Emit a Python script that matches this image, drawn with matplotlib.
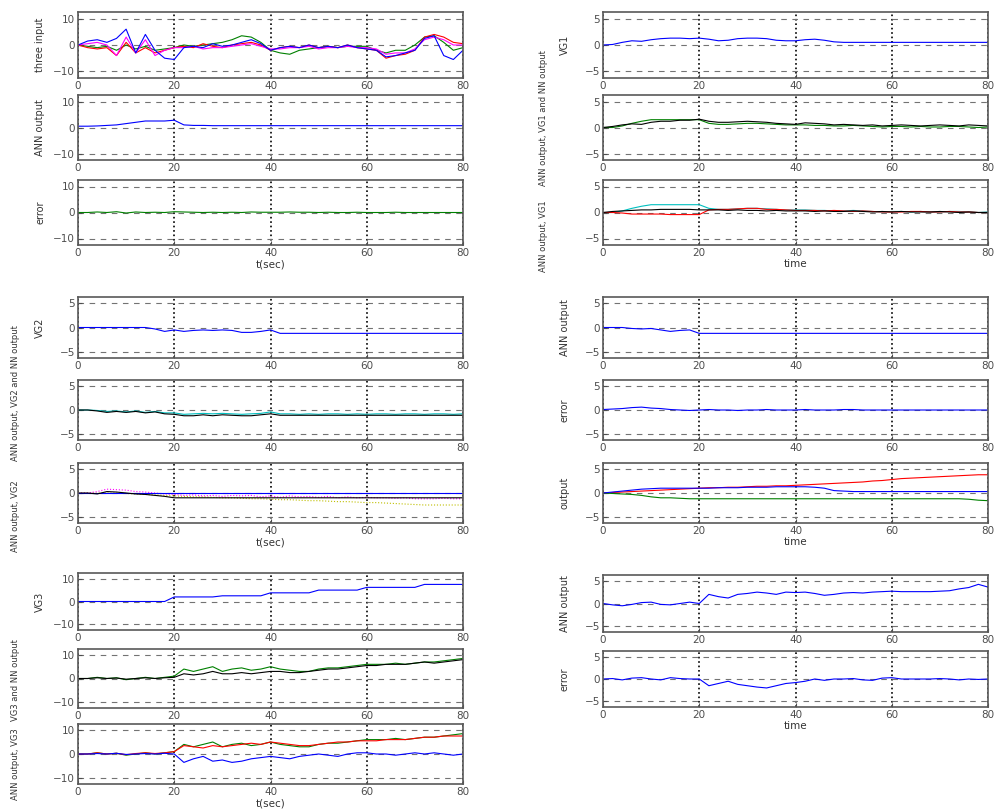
import matplotlib
matplotlib.use("Agg")
import matplotlib.pyplot as plt

# time axis shared by every panel
T = [0, 2, 4, 6, 8, 10, 12, 14, 16, 18, 20, 22, 24, 26, 28, 30, 32, 34, 36, 38, 40,
     42, 44, 46, 48, 50, 52, 54, 56, 58, 60, 62, 64, 66, 68, 70, 72, 74, 76, 78, 80]

# ---- left, group 1
in_blue = [0, 1.5, 2, 1, 2.5, 6, -3, 4, -2, -5, -5.5, -1, -0.5, -1, 0.5, -0.5, 0, 1, 2, 0.5, -2,
           -1, -0.5, -1, 0, -1, -0.5, -1, 0, -1, -1.5, -2, -4.5, -4, -3, -2, 2.5, 3.5, -4, -5.5, -2]
in_red = [0, -1, -1.5, -1, -4, 1, -3, -1, -3, -2, -1, -0.5, -1, 0.5, -0.5, -1, 0, 0.5, 1, 0, -2,
          -1, -0.5, -1, 0, -1, -0.5, -1, 0, -1, -1.5, -2, -5, -4, -3.5, -2, 3, 4, 3, 1, 0.5]
in_green = [0, -0.5, -1, -0.5, -2, 0, -1.5, -0.5, -2, -1.5, -1, 0, -0.5, 0, 0.5, 1, 2, 3.5, 3, 1, -2,
            -3, -3.5, -2, -1.5, -1, -0.5, -1, -0.5, -0.5, -0.5, -2, -3, -2, -2, 0, 3, 3.5, 1, -2, -1]
in_magenta = [0, 0.5, 1, 0, -4, 3, -3, 2, -4, -2, -1, -1, -0.5, -1.5, -1, -1, -0.5, 0, 0.5, -0.5, -1.5,
              -1.5, -1, -1, -0.5, -1.5, -1, -1, -0.5, -1, -1, -1.5, -3.5, -3, -3, -1.5, 2, 3, 2, 0, 0]
ann1 = [0.5, 0.5, 0.6, 0.8, 1, 1.5, 2, 2.5, 2.5, 2.5, 2.8, 1, 0.8, 0.8, 0.7, 0.7, 0.7, 0.7, 0.7, 0.7, 0.7,
        0.7, 0.7, 0.7, 0.7, 0.7, 0.7, 0.7, 0.7, 0.7, 0.7, 0.7, 0.7, 0.7, 0.7, 0.7, 0.7, 0.7, 0.7, 0.7, 0.7]
err1 = [0, 0, 0.2, 0, 0.3, -0.2, 0.2, 0, 0.1, 0, 0.3, 0.2, 0.1, 0, 0.1, 0, 0.1, 0, 0.2, 0.1, 0.1,
        0.1, 0.2, 0.1, 0.1, 0, 0.1, 0, 0, 0.1, 0, 0, 0, 0.1, 0, 0, 0, 0, 0, 0, 0]

# ---- right, group 1
vg1 = [0, 0.1, 0.5, 0.8, 0.7, 1, 1.2, 1.3, 1.3, 1.2, 1.3, 1.1, 0.8, 0.9, 1.2, 1.3, 1.3, 1.2, 0.9, 0.8, 0.8,
       1, 1.1, 0.9, 0.6, 0.5, 0.5, 0.5, 0.5, 0.5, 0.5, 0.5, 0.5, 0.5, 0.5, 0.5, 0.5, 0.5, 0.5, 0.5, 0.5]
vg1_nn = [0, 0.2, 0.5, 0.7, 0.6, 1, 1.2, 1.2, 1.4, 1.4, 1.6, 1.2, 1.0, 1.0, 1.1, 1.2, 1.1, 1.0, 0.8, 0.7, 0.6,
          0.9, 0.8, 0.7, 0.5, 0.6, 0.5, 0.4, 0.5, 0.3, 0.4, 0.5, 0.4, 0.3, 0.4, 0.5, 0.4, 0.3, 0.5, 0.4, 0.3]
vg1_green = [0, 0, 0.3, 0.8, 1.2, 1.5, 1.5, 1.5, 1.5, 1.5, 1.5, 0.8, 0.6, 0.6, 0.7, 0.8, 0.8, 0.7, 0.6, 0.5, 0.5,
             0.5, 0.4, 0.4, 0.3, 0.3, 0.4, 0.3, 0.2, 0.1, 0.2, 0.2, 0.1, 0.2, 0.1, 0.1, 0.2, 0.2, 0.1, 0, 0.1]
vg1_red = [0, 0, -0.1, -0.3, -0.3, -0.3, -0.3, -0.4, -0.4, -0.4, -0.4, 0.5, 0.6, 0.6, 0.7, 0.8, 0.8, 0.6, 0.6, 0.5, 0.4,
           0.4, 0.4, 0.3, 0.4, 0.3, 0.2, 0.3, 0.2, 0.1, 0.1, 0.1, 0.2, 0.2, 0.1, 0.1, 0.2, 0.1, 0.1, 0, 0]
vg1_black = [0, 0.2, 0.3, 0.4, 0.5, 0.5, 0.6, 0.6, 0.6, 0.6, 0.5, 0.5, 0.5, 0.4, 0.5, 0.4, 0.4, 0.3, 0.4, 0.3, 0.3,
             0.3, 0.2, 0.3, 0.2, 0.2, 0.3, 0.2, 0.1, 0.2, 0.1, 0.2, 0.1, 0.1, 0.1, 0.2, 0.1, 0, 0.1, 0, 0]

# ---- left, group 2
vg2 = [0, 0, 0, 0, 0, 0, 0, 0, -0.3, -0.8, -0.5, -0.8, -0.6, -0.5, -0.6, -0.5, -0.6, -1, -1, -0.8, -0.5,
       -1.2, -1.2, -1.2, -1.2, -1.2, -1.2, -1.2, -1.2, -1.2, -1.2, -1.2, -1.2, -1.2, -1.2, -1.2, -1.2, -1.2, -1.2, -1.2, -1.2]
vg2_nn = [0, 0, -0.2, -0.5, -0.3, -0.5, -0.3, -0.6, -0.4, -0.8, -0.9, -1.2, -1.2, -1, -1.2, -1, -1.1, -1.2, -1.2, -1, -0.8,
          -1.1, -1.1, -1.1, -1.1, -1.1, -1.1, -1.1, -1.1, -1.1, -1.1, -1.1, -1.1, -1.1, -1.1, -1.1, -1.1, -1.1, -1.1, -1.1, -1.1]
vg2_cyan = [0, 0, -0.1, -0.3, -0.2, -0.4, -0.2, -0.5, -0.3, -0.6, -0.6, -0.9, -0.8, -0.7, -0.8, -0.7, -0.8, -0.9, -0.8, -0.7, -0.4,
            -0.8, -0.8, -0.9, -0.8, -0.9, -0.8, -0.8, -0.9, -0.8, -0.9, -0.8, -0.8, -0.9, -0.8, -0.8, -0.9, -0.8, -0.8, -0.9, -0.8]
vg2_blue = [0, 0, 0, 0, 0, 0, 0, 0, 0, 0, 0, 0, 0, 0, 0, 0, 0, 0, 0, 0, 0,
            0, 0, 0, 0, 0, 0, 0, 0, 0, 0, 0, 0, 0, 0, 0, 0, 0, 0, 0, 0]
vg2_black = [0, 0, -0.2, 0.3, 0.2, 0, -0.2, -0.3, -0.5, -0.7, -1, -1, -1, -1, -1, -1, -1, -1, -1, -1, -1,
             -1, -1, -1, -1, -1, -1, -1, -1, -1, -1, -1, -1, -1, -1, -1, -1, -1, -1, -1, -1]
vg2_magenta = [0, 0, 0.3, 0.8, 0.7, 0.6, 0.3, 0.2, 0, -0.2, -0.3, -0.5, -0.4, -0.6, -0.5, -0.7, -0.5, -0.6, -0.5, -0.8, -0.6,
               -0.9, -0.6, -0.8, -0.7, -0.9, -0.7, -1, -0.8, -1, -0.9, -1, -1, -1.1, -1, -1.2, -1.2, -1.2, -1.1, -1.2, -1.2]
vg2_yellow = [0, 0, 0, 0, 0, -0.1, -0.2, -0.3, -0.4, -0.5, -0.6, -0.7, -0.8, -0.8, -0.9, -1, -1, -1.1, -1.2, -1.2, -1.3,
              -1.4, -1.4, -1.5, -1.6, -1.6, -1.7, -1.8, -1.8, -1.9, -2, -2, -2.1, -2.2, -2.3, -2.4, -2.5, -2.5, -2.5, -2.5, -2.5]

# ---- right, group 2
ann2 = [0, 0, 0, -0.2, -0.3, -0.2, -0.5, -0.8, -0.6, -0.5, -1.2, -1.2, -1.2, -1.2, -1.2, -1.2, -1.2, -1.2, -1.2, -1.2, -1.2,
        -1.2, -1.2, -1.2, -1.2, -1.2, -1.2, -1.2, -1.2, -1.2, -1.2, -1.2, -1.2, -1.2, -1.2, -1.2, -1.2, -1.2, -1.2, -1.2, -1.2]
err2 = [0.1, 0.2, 0.3, 0.5, 0.6, 0.4, 0.3, 0.1, 0, -0.1, 0, 0.1, 0, 0, -0.1, 0, 0, 0.1, 0, 0, 0,
        0.1, 0, 0, 0, 0.1, 0.1, 0, 0, 0, 0, 0, 0, 0, 0, 0, 0, 0, 0, 0, 0]
out_red = [0, 0.1, 0.2, 0.3, 0.4, 0.5, 0.6, 0.7, 0.8, 0.9, 1, 1.1, 1.1, 1.2, 1.2, 1.3, 1.4, 1.4, 1.5, 1.5, 1.6,
           1.7, 1.8, 1.9, 2, 2.1, 2.2, 2.3, 2.5, 2.6, 2.8, 3, 3.1, 3.2, 3.3, 3.4, 3.5, 3.6, 3.7, 3.8, 3.8]
out_blue = [0, 0.2, 0.4, 0.6, 0.8, 0.9, 1, 1, 1, 1, 1, 1, 1.1, 1.1, 1.1, 1.2, 1.2, 1.2, 1.3, 1.3, 1.3,
            1.3, 1.2, 1.0, 0.5, 0.4, 0.3, 0.3, 0.3, 0.3, 0.3, 0.3, 0.3, 0.3, 0.3, 0.3, 0.3, 0.3, 0.3, 0.3, 0.3]
out_green = [0, -0.1, -0.2, -0.3, -0.5, -0.8, -1, -1, -1.1, -1.2, -1.2, -1.2, -1.2, -1.2, -1.2, -1.2, -1.2, -1.2, -1.2, -1.2, -1.2,
             -1.2, -1.2, -1.2, -1.2, -1.2, -1.2, -1.2, -1.2, -1.2, -1.2, -1.2, -1.2, -1.2, -1.2, -1.2, -1.2, -1.2, -1.3, -1.5, -1.6]

# ---- left, group 3
vg3 = [0, 0, 0, 0, 0, 0, 0, 0, 0, 0, 2, 2, 2, 2, 2, 2.5, 2.5, 2.5, 2.5, 2.5, 3.8,
       3.8, 3.8, 3.8, 3.8, 5, 5, 5, 5, 5, 6.2, 6.2, 6.2, 6.2, 6.2, 6.2, 7.5, 7.5, 7.5, 7.5, 7.5]
vg3_green = [0, 0, 0.5, 0, 0.3, -0.5, 0, 0.5, 0, 0.5, 1, 4, 3, 4, 5, 3, 4, 4.5, 3.5, 4, 5,
             4, 3.5, 3, 3, 4, 4.5, 4.5, 5, 5.5, 6, 6, 6, 6.5, 6, 6.5, 7, 7, 7.5, 8, 8.5]
vg3_black = [0, 0, 0.3, 0, 0.2, -0.3, 0, 0.3, 0, 0.3, 0.5, 2, 1.5, 2, 3, 2, 2, 2.5, 2, 2.5, 3,
             3, 2.5, 2.5, 3, 3.5, 4, 4, 4.5, 5, 5.5, 5.5, 6, 6, 6, 6.5, 7, 6.5, 7, 7.5, 8]
vg3_red = [0, 0, 0.5, 0, 0.3, -0.3, 0.2, 0.5, 0.2, 0.5, 1, 3.5, 3, 2.5, 3.5, 3, 3.5, 4, 4.5, 4, 5,
           4.5, 4, 3.5, 3.5, 4, 4.5, 5, 5, 5.5, 5.5, 5.5, 6, 6, 6, 6.5, 7, 7, 7.5, 7.5, 7.5]
vg3_blue = [0, 0, 0.2, 0, 0.3, -0.2, 0, 0.2, 0, 0.3, 0, -3.5, -2, -1, -3, -2.5, -3.5, -3, -2, -1.5, -1,
            -1.5, -2, -1, -0.5, 0, -0.5, -1, 0, 0.5, 0.5, 0, 0, -0.5, 0, 0.5, 0, 0.5, 0, -0.5, 0]

# ---- right, group 3
ann3 = [0, -0.3, -0.5, -0.2, 0.2, 0.3, -0.2, -0.3, 0, 0.3, 0, 2, 1.5, 1.2, 2, 2.2, 2.5, 2.3, 2, 2.5, 2.4,
        2.5, 2.2, 1.8, 2, 2.3, 2.4, 2.3, 2.5, 2.6, 2.7, 2.6, 2.6, 2.6, 2.6, 2.7, 2.8, 3.2, 3.5, 4.2, 3.6]
err3 = [0, 0.1, -0.2, 0.2, 0.3, 0, -0.2, 0.3, 0.1, 0, 0, -1.5, -1, -0.5, -1.2, -1.5, -1.8, -2, -1.5, -1, -0.8,
        -0.5, 0, -0.3, 0, 0, 0.1, -0.2, -0.3, 0.2, 0.3, 0, 0, 0, 0, 0.1, 0, -0.2, 0, -0.1, 0]

LEFT_X = 78
RIGHT_X = 603
W_PX = 385

fig = plt.figure(figsize=(9.96, 8.10), dpi=100)


def panel(x_px, y0, y1, series, lim, ylabel=None, xlabel=None, lab_x=None, lab_y=None, lab_fs=7):
    ax = fig.add_axes([x_px / 996, (810 - y1) / 810, W_PX / 996, (y1 - y0) / 810])
    for vals, c, ls in series:
        ax.plot(T, vals, color=c, lw=0.8, ls=ls)
    ax.set_xlim(0, 80)
    ax.set_ylim(-1.25 * lim, 1.25 * lim)
    ax.set_xticks([0, 20, 40, 60, 80])
    ax.set_yticks([-lim, 0, lim])
    ax.tick_params(direction="in", labelsize=7.5, length=3, pad=2, colors="0.3")
    ax.yaxis.grid(True, ls=(0, (5, 5)), color="0.45", lw=0.8)
    ax.xaxis.grid(True, ls=":", color="k", lw=1.2)
    for s in ax.spines.values():
        s.set_color("0.35")
        s.set_linewidth(1.2)
    if ylabel:
        ax.set_ylabel(ylabel, fontsize=lab_fs, color="0.2")
        # label position given in figure pixels
        lx = x_px - 33 if lab_x is None else lab_x
        ly = (y0 + y1) / 2 if lab_y is None else lab_y
        ax.yaxis.set_label_coords((lx - x_px) / W_PX, (y1 - ly) / (y1 - y0))
    if xlabel:
        ax.set_xlabel(xlabel, fontsize=7.5, labelpad=1, color="0.2")
    return ax


# left column
panel(LEFT_X, 12, 78, [(in_green, "green", "-"), (in_red, "red", "-"), (in_magenta, "magenta", "-"),
                       (in_blue, "blue", "-")], 10, "three input")
panel(LEFT_X, 95, 160, [(ann1, "blue", "-")], 10, "ANN output")
panel(LEFT_X, 180, 245, [(err1, "green", "-")], 10, "error", "t(sec)")

panel(LEFT_X, 297, 358, [(vg2, "blue", "-")], 5, "VG2")
panel(LEFT_X, 380, 440, [(vg2_cyan, "c", "-"), (vg2_nn, "k", "-")], 5, "ANN output, VG2 and NN output",
      lab_x=20, lab_y=393, lab_fs=6)
panel(LEFT_X, 463, 523, [(vg2_yellow, "y", ":"), (vg2_magenta, "magenta", ":"), (vg2_blue, "blue", "-"),
                         (vg2_black, "k", "-")], 5, "ANN output, VG2", "t(sec)", lab_x=20, lab_y=516, lab_fs=6)

panel(LEFT_X, 573, 630, [(vg3, "blue", "-")], 10, "VG3")
panel(LEFT_X, 649, 708, [(vg3_green, "green", "-"), (vg3_black, "k", "-")], 10, "VG3 and NN output",
      lab_x=20, lab_y=680, lab_fs=6)
panel(LEFT_X, 724, 784, [(vg3_green, "green", "-"), (vg3_red, "red", "-"), (vg3_blue, "blue", "-")], 10,
      "ANN output, VG3", "t(sec)", lab_x=20, lab_y=764, lab_fs=6)

# right column
panel(RIGHT_X, 12, 78, [(vg1, "blue", "-")], 5, "VG1")
panel(RIGHT_X, 95, 160, [(vg1_green, "green", "-"), (vg1_nn, "k", "-")], 5, "ANN output, VG1 and NN output",
      lab_x=548, lab_y=118, lab_fs=6)
panel(RIGHT_X, 180, 245, [(vg1_green, "c", "-"), (vg1_red, "red", "-"), (vg1_black, "k", "-")], 5,
      "ANN output, VG1", "time", lab_x=548, lab_y=236, lab_fs=6)

panel(RIGHT_X, 297, 358, [(ann2, "blue", "-")], 5, "ANN output")
panel(RIGHT_X, 380, 440, [(err2, "blue", "-")], 5, "error")
panel(RIGHT_X, 463, 523, [(out_red, "red", "-"), (out_green, "green", "-"), (out_blue, "blue", "-")], 5,
      "output", "time")

panel(RIGHT_X, 575, 632, [(ann3, "blue", "-")], 5, "ANN output")
panel(RIGHT_X, 651, 707, [(err3, "blue", "-")], 5, "error", "time")

fig.savefig("out.png", dpi=100)
